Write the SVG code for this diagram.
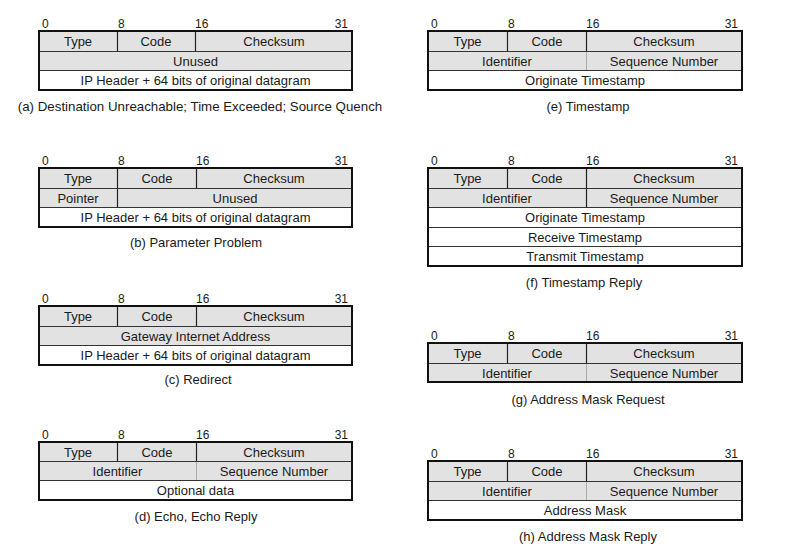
<svg xmlns="http://www.w3.org/2000/svg" width="796" height="557" viewBox="0 0 796 557">
<style>
text{font-family:"Liberation Sans",Arial,sans-serif;fill:#1a1a1a}
.t{font-size:13px;text-anchor:middle}
.n{font-size:12px}
.e{text-anchor:end}
.c{font-size:13px;text-anchor:middle}
.g{fill:#e2e2e2}
.w{fill:#ffffff}
.h{stroke:#333;stroke-width:1;fill:none}
.v{stroke:#222;stroke-width:1.2;fill:none}
.lv{stroke:#aaa;stroke-width:1;fill:none}
.o{fill:none;stroke:#111;stroke-width:2}
</style>
<rect width="796" height="557" fill="#fff"/>

<!-- (a) -->
<g id="a">
<text class="n" x="42" y="28">0</text><text class="n" x="118" y="28">8</text><text class="n" x="195" y="28">16</text><text class="n e" x="348" y="28">31</text>
<rect class="g" x="39" y="31" width="313" height="39"/><rect class="w" x="39" y="70" width="313" height="20"/>
<path class="h" d="M39 51.5H352M39 70.5H352"/>
<path class="v" d="M117.5 31V51M195.5 31V51"/>
<rect class="o" x="39" y="31" width="313" height="59"/>
<text class="t" x="78" y="46">Type</text><text class="t" x="156" y="46">Code</text><text class="t" x="274" y="46">Checksum</text>
<text class="t" x="195.5" y="65.5">Unused</text>
<text class="t" x="195.5" y="85">IP Header + 64 bits of original datagram</text>
<text class="c" x="200" y="111" style="font-size:13.3px">(a) Destination Unreachable; Time Exceeded; Source Quench</text>
</g>

<!-- (b) -->
<g id="b">
<text class="n" x="42" y="165">0</text><text class="n" x="118" y="165">8</text><text class="n" x="196" y="165">16</text><text class="n e" x="348" y="165">31</text>
<rect class="g" x="39" y="168" width="313" height="39"/><rect class="w" x="39" y="207" width="313" height="20"/>
<path class="h" d="M39 188.5H352M39 207.5H352"/>
<path class="v" d="M117.5 168V207M196.5 168V188"/>
<rect class="o" x="39" y="168" width="313" height="59"/>
<text class="t" x="78" y="183">Type</text><text class="t" x="157" y="183">Code</text><text class="t" x="274" y="183">Checksum</text>
<text class="t" x="78" y="202.5">Pointer</text><text class="t" x="235" y="202.5">Unused</text>
<text class="t" x="195.5" y="222">IP Header + 64 bits of original datagram</text>
<text class="c" x="196" y="247">(b) Parameter Problem</text>
</g>

<!-- (c) -->
<g id="c">
<text class="n" x="42" y="303">0</text><text class="n" x="118" y="303">8</text><text class="n" x="196" y="303">16</text><text class="n e" x="348" y="303">31</text>
<rect class="g" x="39" y="306" width="313" height="39"/><rect class="w" x="39" y="345" width="313" height="20"/>
<path class="h" d="M39 326.5H352M39 345.5H352"/>
<path class="v" d="M117.5 306V326M196.5 306V326"/>
<rect class="o" x="39" y="306" width="313" height="59"/>
<text class="t" x="78" y="321">Type</text><text class="t" x="157" y="321">Code</text><text class="t" x="274" y="321">Checksum</text>
<text class="t" x="195.5" y="340.5">Gateway Internet Address</text>
<text class="t" x="195.5" y="360">IP Header + 64 bits of original datagram</text>
<text class="c" x="198" y="384">(c) Redirect</text>
</g>

<!-- (d) -->
<g id="d">
<text class="n" x="42" y="439">0</text><text class="n" x="118" y="439">8</text><text class="n" x="196" y="439">16</text><text class="n e" x="348" y="439">31</text>
<rect class="g" x="39" y="442" width="313" height="39"/><rect class="w" x="39" y="481" width="313" height="19"/>
<path class="h" d="M39 461.5H352M39 480.5H352"/>
<path class="v" d="M117.5 442V461M196.5 442V461"/>
<path class="lv" d="M196.5 462V480"/>
<rect class="o" x="39" y="442" width="313" height="58"/>
<text class="t" x="78" y="456.5">Type</text><text class="t" x="157" y="456.5">Code</text><text class="t" x="274" y="456.5">Checksum</text>
<text class="t" x="117.5" y="475.5">Identifier</text><text class="t" x="274" y="475.5">Sequence Number</text>
<text class="t" x="195.5" y="495">Optional data</text>
<text class="c" x="196" y="521">(d) Echo, Echo Reply</text>
</g>

<!-- (e) -->
<g id="e">
<text class="n" x="431" y="28">0</text><text class="n" x="508" y="28">8</text><text class="n" x="586" y="28">16</text><text class="n e" x="738" y="28">31</text>
<rect class="g" x="428" y="31" width="314" height="39"/><rect class="w" x="428" y="70" width="314" height="20"/>
<path class="h" d="M428 51.5H742M428 70.5H742"/>
<path class="v" d="M507.5 31V51M586.5 31V51"/>
<path class="lv" d="M586.5 52V70"/>
<rect class="o" x="428" y="31" width="314" height="59"/>
<text class="t" x="467.5" y="46">Type</text><text class="t" x="547" y="46">Code</text><text class="t" x="664" y="46">Checksum</text>
<text class="t" x="507" y="65.5">Identifier</text><text class="t" x="664" y="65.5">Sequence Number</text>
<text class="t" x="585" y="85">Originate Timestamp</text>
<text class="c" x="588" y="111">(e) Timestamp</text>
</g>

<!-- (f) -->
<g id="f">
<text class="n" x="431" y="165">0</text><text class="n" x="508" y="165">8</text><text class="n" x="586" y="165">16</text><text class="n e" x="738" y="165">31</text>
<rect class="g" x="428" y="168" width="314" height="39"/><rect class="w" x="428" y="207" width="314" height="59"/>
<path class="h" d="M428 188.5H742M428 207.5H742M428 227.5H742M428 246.5H742"/>
<path class="v" d="M507.5 168V188M586.5 168V207"/>
<rect class="o" x="428" y="168" width="314" height="98"/>
<text class="t" x="467.5" y="183">Type</text><text class="t" x="547" y="183">Code</text><text class="t" x="664" y="183">Checksum</text>
<text class="t" x="507" y="202.5">Identifier</text><text class="t" x="664" y="202.5">Sequence Number</text>
<text class="t" x="585" y="222">Originate Timestamp</text>
<text class="t" x="585" y="241.5">Receive Timestamp</text>
<text class="t" x="585" y="261">Transmit Timestamp</text>
<text class="c" x="584" y="287">(f) Timestamp Reply</text>
</g>

<!-- (g) -->
<g id="g">
<text class="n" x="431" y="340">0</text><text class="n" x="508" y="340">8</text><text class="n" x="586" y="340">16</text><text class="n e" x="738" y="340">31</text>
<rect class="g" x="428" y="343" width="314" height="39"/>
<path class="h" d="M428 363.5H742"/>
<path class="v" d="M507.5 343V363M586.5 343V363"/>
<path class="lv" d="M586.5 364V382"/>
<rect class="o" x="428" y="343" width="314" height="39"/>
<text class="t" x="467.5" y="358">Type</text><text class="t" x="547" y="358">Code</text><text class="t" x="664" y="358">Checksum</text>
<text class="t" x="507" y="377.5">Identifier</text><text class="t" x="664" y="377.5">Sequence Number</text>
<text class="c" x="588" y="404">(g) Address Mask Request</text>
</g>

<!-- (h) -->
<g id="h">
<text class="n" x="431" y="458">0</text><text class="n" x="508" y="458">8</text><text class="n" x="586" y="458">16</text><text class="n e" x="738" y="458">31</text>
<rect class="g" x="428" y="461" width="314" height="39"/><rect class="w" x="428" y="500" width="314" height="20"/>
<path class="h" d="M428 481.5H742M428 500.5H742"/>
<path class="v" d="M507.5 461V481M586.5 461V481"/>
<path class="lv" d="M586.5 482V500"/>
<rect class="o" x="428" y="461" width="314" height="59"/>
<text class="t" x="467.5" y="476">Type</text><text class="t" x="547" y="476">Code</text><text class="t" x="664" y="476">Checksum</text>
<text class="t" x="507" y="495.5">Identifier</text><text class="t" x="664" y="495.5">Sequence Number</text>
<text class="t" x="585" y="515">Address Mask</text>
<text class="c" x="588" y="541">(h) Address Mask Reply</text>
</g>

<g id="connectors"></g>
</svg>
